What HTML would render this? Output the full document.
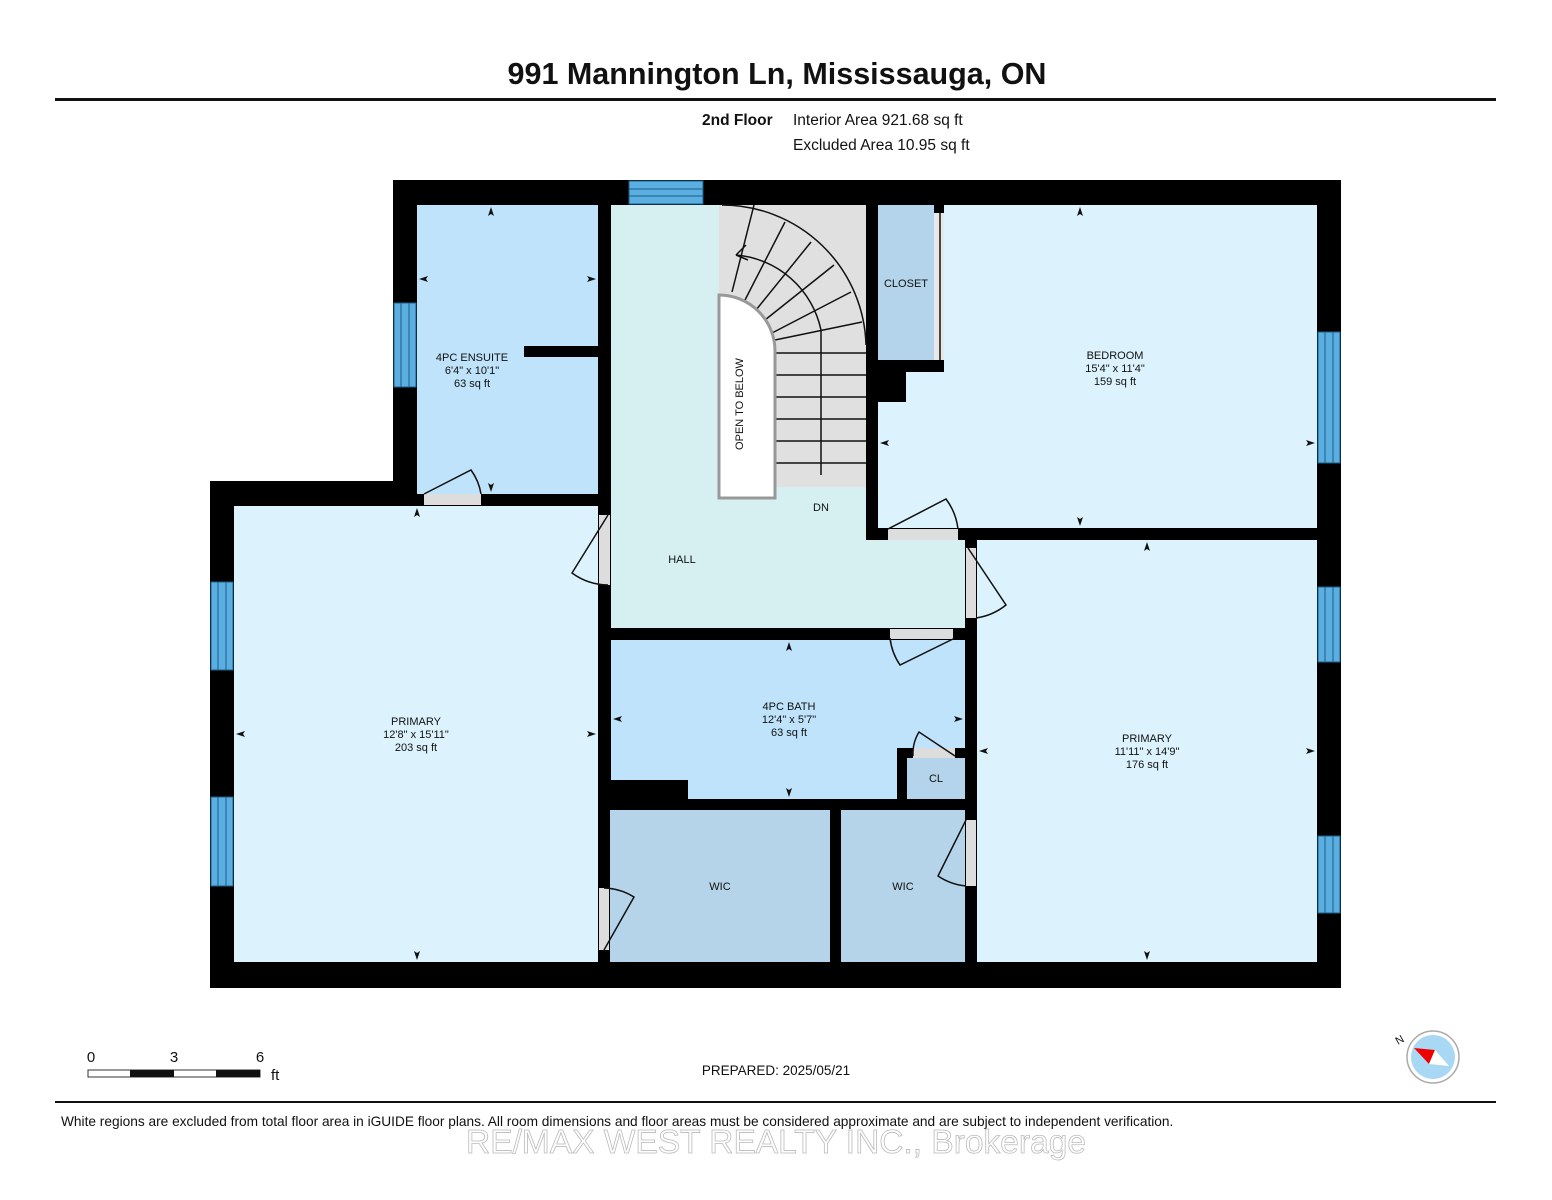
<!DOCTYPE html>
<html><head><meta charset="utf-8"><style>
html,body{margin:0;padding:0;background:#fff;}
svg{display:block;}
text{font-family:"Liberation Sans",Arial,sans-serif;fill:#111;}
</style></head><body>
<svg width="1552" height="1200" viewBox="0 0 1552 1200" xmlns="http://www.w3.org/2000/svg">
<rect width="1552" height="1200" fill="#fff"/>
<text x="777" y="84" font-size="30.5" font-weight="bold" text-anchor="middle">991 Mannington Ln, Mississauga, ON</text>
<rect x="55" y="98" width="1441" height="3" fill="#111"/>
<text x="702" y="125" font-size="15.5" font-weight="bold">2nd Floor</text>
<text x="793" y="125" font-size="15.5">Interior Area 921.68 sq ft</text>
<text x="793" y="150" font-size="15.5">Excluded Area 10.95 sq ft</text>

<polygon points="393,180 1341,180 1341,988 210,988 210,481 393,481" fill="#000"/>

<rect x="417" y="205" width="181" height="289" fill="#bfe3fa"/>
<rect x="524" y="346" width="74" height="11" fill="#000"/>
<polygon points="611,205 719,205 719,487 866,487 866,540 965,540 965,628 611,628" fill="#d6f0f2"/>
<rect x="719" y="205" width="147" height="282" fill="#e0e0e0"/>
<g stroke="#111" stroke-width="1.5" fill="none">
<path d="M722,205 A144,144 0 0 1 866,345"/>
<path d="M736,255 A95,95 0 0 1 821,330 L821,475"/>
<path d="M736,255 l10,-10 M736,255 l12,5"/>
<line x1="754" y1="205" x2="732" y2="292"/><line x1="785" y1="222" x2="745" y2="300"/>
<line x1="811" y1="242" x2="756" y2="310"/><line x1="834" y1="265" x2="765" y2="320"/>
<line x1="851" y1="292" x2="772" y2="333"/><line x1="862" y1="322" x2="775" y2="340"/>
<line x1="776" y1="353" x2="866" y2="353"/><line x1="776" y1="375" x2="866" y2="375"/>
<line x1="776" y1="397" x2="866" y2="397"/><line x1="776" y1="419" x2="866" y2="419"/>
<line x1="776" y1="441" x2="866" y2="441"/><line x1="776" y1="463" x2="866" y2="463"/>
</g>
<path d="M719,295 A56,56 0 0 1 775,351 L775,498 L719,498 Z" fill="#fff" stroke="#999" stroke-width="3"/>
<text transform="translate(743,404) rotate(-90)" font-size="11" text-anchor="middle">OPEN TO BELOW</text>
<text x="821" y="511" font-size="11" text-anchor="middle">DN</text>
<text x="682" y="563" font-size="11" text-anchor="middle">HALL</text>
<rect x="878" y="205" width="56" height="155" fill="#b3d4ea"/>
<rect x="934" y="213" width="10" height="147" fill="#e8e8e8"/>
<line x1="940" y1="213" x2="940" y2="360" stroke="#111" stroke-width="1.5"/>
<text x="906" y="287" font-size="11" text-anchor="middle">CLOSET</text>
<polygon points="944,205 1317,205 1317,528 878,528 878,402 906,402 906,372 944,372" fill="#dcf2fc"/>
<text x="1115" y="359" font-size="11" text-anchor="middle">BEDROOM</text>
<text x="1115" y="372" font-size="11" text-anchor="middle">15'4" x 11'4"</text>
<text x="1115" y="385" font-size="11" text-anchor="middle">159 sq ft</text>
<rect x="234" y="506" width="364" height="456" fill="#dcf2fc"/>
<text x="416" y="725" font-size="11" text-anchor="middle">PRIMARY</text>
<text x="416" y="738" font-size="11" text-anchor="middle">12'8" x 15'11"</text>
<text x="416" y="751" font-size="11" text-anchor="middle">203 sq ft</text>
<polygon points="611,640 965,640 965,748 897,748 897,799 688,799 688,780 611,780" fill="#bfe3fa"/>
<rect x="907" y="758" width="58" height="41" fill="#b3d4ea"/>
<text x="936" y="782" font-size="11" text-anchor="middle">CL</text>
<text x="789" y="710" font-size="11" text-anchor="middle">4PC BATH</text>
<text x="789" y="723" font-size="11" text-anchor="middle">12'4" x 5'7"</text>
<text x="789" y="736" font-size="11" text-anchor="middle">63 sq ft</text>
<rect x="610" y="810" width="220" height="152" fill="#b5d4ea"/>
<rect x="841" y="810" width="124" height="152" fill="#b5d4ea"/>
<text x="720" y="890" font-size="11" text-anchor="middle">WIC</text>
<text x="903" y="890" font-size="11" text-anchor="middle">WIC</text>
<rect x="977" y="540" width="340" height="422" fill="#dcf2fc"/>
<text x="1147" y="742" font-size="11" text-anchor="middle">PRIMARY</text>
<text x="1147" y="755" font-size="11" text-anchor="middle">11'11" x 14'9"</text>
<text x="1147" y="768" font-size="11" text-anchor="middle">176 sq ft</text>
<text x="472" y="361" font-size="11" text-anchor="middle">4PC ENSUITE</text>
<text x="472" y="374" font-size="11" text-anchor="middle">6'4" x 10'1"</text>
<text x="472" y="387" font-size="11" text-anchor="middle">63 sq ft</text>

<g fill="#5aaee0" stroke="#1c5f8a" stroke-width="1">
<rect x="629" y="181" width="74" height="23"/>
<rect x="394" y="303" width="22" height="84"/>
<rect x="211" y="582" width="22" height="88"/>
<rect x="211" y="797" width="22" height="89"/>
<rect x="1318" y="332" width="22" height="131"/>
<rect x="1318" y="587" width="22" height="75"/>
<rect x="1318" y="836" width="22" height="77"/>
</g>
<g stroke="#1c5f8a" stroke-width="1">
<line x1="629" y1="189" x2="703" y2="189"/><line x1="629" y1="196" x2="703" y2="196"/>
<line x1="401" y1="303" x2="401" y2="387"/><line x1="409" y1="303" x2="409" y2="387"/>
<line x1="218" y1="582" x2="218" y2="670"/><line x1="226" y1="582" x2="226" y2="670"/>
<line x1="218" y1="797" x2="218" y2="886"/><line x1="226" y1="797" x2="226" y2="886"/>
<line x1="1325" y1="332" x2="1325" y2="463"/><line x1="1333" y1="332" x2="1333" y2="463"/>
<line x1="1325" y1="587" x2="1325" y2="662"/><line x1="1333" y1="587" x2="1333" y2="662"/>
<line x1="1325" y1="836" x2="1325" y2="913"/><line x1="1333" y1="836" x2="1333" y2="913"/>
</g>

<g fill="#ddd">
<rect x="424" y="494" width="57" height="11"/>
<rect x="599" y="515" width="11" height="70"/>
<rect x="888" y="529" width="70" height="11"/>
<rect x="966" y="548" width="10" height="70"/>
<rect x="890" y="629" width="63" height="10"/>
<rect x="913" y="748" width="42" height="10"/>
<rect x="966" y="820" width="10" height="66"/>
<rect x="599" y="888" width="10" height="62"/>
</g>
<g stroke="#111" stroke-width="1.5" fill="none">
<path d="M424,494 L471,470 A56,56 0 0 1 481,494"/>
<path d="M608,515 L572,573 A62,62 0 0 0 608,585"/>
<path d="M888,529 L946,499 A62,62 0 0 1 958,529"/>
<path d="M968,548 L1006,605 A62,62 0 0 1 976,618"/>
<path d="M955,638 L900,665 A60,60 0 0 1 890,638"/>
<path d="M955,756 L919,732 A42,42 0 0 0 913,756"/>
<path d="M966,820 L938,876 A60,60 0 0 0 966,886"/>
<path d="M604,950 L634,897 A60,60 0 0 0 604,888"/>
</g>

<g fill="#111">
<path d="M491,207 l-3,9 l3,-2 l3,2z"/><path d="M491,492 l-3,-9 l3,2 l3,-2z"/>
<path d="M419,279 l9,-3 l-2,3 l2,3z"/><path d="M596,279 l-9,-3 l2,3 l-2,3z"/>
<path d="M1080,207 l-3,9 l3,-2 l3,2z"/><path d="M1080,526 l-3,-9 l3,2 l3,-2z"/>
<path d="M880,443 l9,-3 l-2,3 l2,3z"/><path d="M1315,443 l-9,-3 l2,3 l-2,3z"/>
<path d="M417,508 l-3,9 l3,-2 l3,2z"/><path d="M417,960 l-3,-9 l3,2 l3,-2z"/>
<path d="M236,734 l9,-3 l-2,3 l2,3z"/><path d="M596,734 l-9,-3 l2,3 l-2,3z"/>
<path d="M789,642 l-3,9 l3,-2 l3,2z"/><path d="M789,797 l-3,-9 l3,2 l3,-2z"/>
<path d="M613,719 l9,-3 l-2,3 l2,3z"/><path d="M963,719 l-9,-3 l2,3 l-2,3z"/>
<path d="M1147,542 l-3,9 l3,-2 l3,2z"/><path d="M1147,960 l-3,-9 l3,2 l3,-2z"/>
<path d="M979,751 l9,-3 l-2,3 l2,3z"/><path d="M1315,751 l-9,-3 l2,3 l-2,3z"/>
</g>

<text x="91" y="1062" font-size="15" text-anchor="middle">0</text>
<text x="174" y="1062" font-size="15" text-anchor="middle">3</text>
<text x="260" y="1062" font-size="15" text-anchor="middle">6</text>
<rect x="88" y="1070" width="172" height="7" fill="#fff" stroke="#333" stroke-width="1"/>
<rect x="130" y="1070" width="44" height="7" fill="#111"/>
<rect x="216" y="1070" width="44" height="7" fill="#111"/>
<text x="271" y="1080" font-size="15">ft</text>
<text x="776" y="1075" font-size="13.5" text-anchor="middle">PREPARED: 2025/05/21</text>

<circle cx="1433" cy="1057" r="26" fill="#fff" stroke="#aaa" stroke-width="1.5"/>
<circle cx="1433" cy="1057" r="22" fill="#a9d8f5"/>
<polygon points="1414,1048 1435,1050 1429,1064" fill="#e00"/>
<polygon points="1435,1050 1449,1066 1429,1064" fill="#fff"/>
<text transform="translate(1398,1045) rotate(-30)" font-size="11">N</text>

<rect x="55" y="1101" width="1441" height="2" fill="#111"/>
<text x="61" y="1126" font-size="13.7">White regions are excluded from total floor area in iGUIDE floor plans. All room dimensions and floor areas must be considered approximate and are subject to independent verification.</text>
<text x="776" y="1153" font-size="33.5" text-anchor="middle" stroke="#bbb" stroke-width="0.8" style="fill:#fff">RE/MAX WEST REALTY INC., Brokerage</text>
</svg>
</body></html>
